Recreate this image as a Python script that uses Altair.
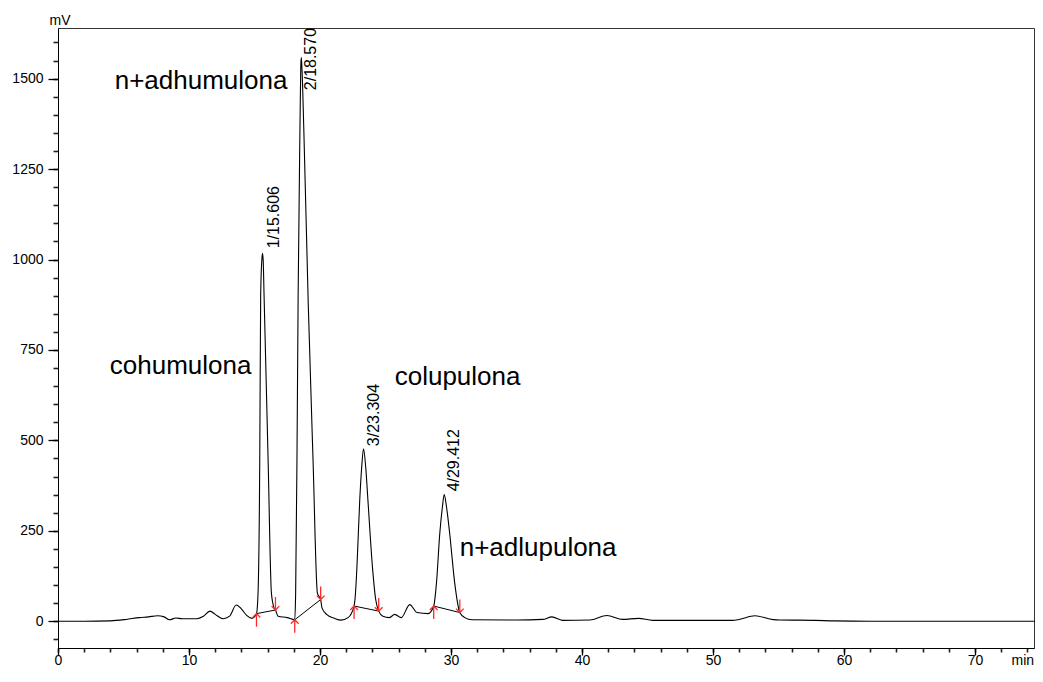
import altair as alt
import pandas as pd

# ---- chromatogram signal (time in min, signal in mV) ----
sig_t = [0, 2, 4.0, 5.2, 6.2, 6.9, 7.6, 8.1, 8.5, 9.0, 9.5, 10.6, 11.1, 11.6, 12.0,
         12.6, 13.1, 13.6, 14.0, 14.4, 14.8,
         15.15, 15.27, 15.40, 15.47, 15.56, 15.61, 15.66, 15.73, 16.04, 16.29, 16.49, 16.6,
         16.8, 17.5,
         18.07, 18.14, 18.24, 18.33, 18.47, 18.53, 18.57, 18.62, 18.76, 19.1, 19.47, 19.8, 20.05,
         20.15, 20.5, 21.1, 21.6, 22.14,
         22.6, 22.67, 22.82, 23.03, 23.18, 23.32, 23.49, 23.66, 24.0, 24.25, 24.48,
         24.8, 25.3, 25.7, 26.2, 26.85, 27.4, 28.25,
         28.68, 28.89, 29.14, 29.34, 29.48, 29.66, 29.9, 30.28, 30.67,
         31.05, 31.6, 35.0, 37.0, 37.7, 38.5, 40.6, 41.9, 43.1, 44.3, 45.4, 49.0,
         51.5, 52.0, 53.2, 54.6, 55.1, 57.8, 59.2, 62.0, 75.0]
sig_mv = [0, 0, 1, 5, 10, 12, 15, 12, 4, 9, 7, 7, 14, 28, 19,
          7, 14, 45, 34, 16, 8,
          21, 78, 443, 900, 1000, 1017, 1000, 900, 443, 78, 37, 31,
          14, 10,
          4, 78, 443, 900, 1364, 1530, 1559, 1530, 1364, 880, 443, 78, 60,
          37, 19, 8, 3, 10,
          42, 60, 151, 333, 425, 477, 425, 333, 151, 60, 28,
          14, 10, 19, 10, 46, 24, 21,
          42, 106, 242, 315, 350, 315, 242, 106, 24,
          10, 4, 3.5, 5, 12, 2.5, 3.5, 16, 5, 8, 2.5, 2.5,
          2.5, 5, 15, 4.5, 3.5, 2.5, 1, 0, 0]

# ---- integration baselines (start -> end of each peak) ----
base_t1 = [15.15, 18.07, 22.6, 28.68]
base_mv1 = [21, 4, 42, 42]
base_t2 = [16.6, 20.05, 24.48, 30.67]
base_mv2 = [31, 60, 28, 24]

# ---- peak labels (retention times) ----
peak_labels = ["1/15.606", "2/18.570", "3/23.304", "4/29.412"]
peak_label_t = [16.52, 19.33, 24.15, 30.21]
peak_label_mv = [1031, 1468, 484, 359]

# ---- compound names ----
names = ["n+adhumulona", "cohumulona", "colupulona", "n+adlupulona"]
name_t = [4.33, 3.95, 25.7, 30.66]
name_mv = [1471, 684, 653, 179]

# ---- axis ticks ----
x_major = [0, 10, 20, 30, 40, 50, 60, 70]
x_minor = list(range(0, 75, 2))
y_major = [0, 250, 500, 750, 1000, 1250, 1500]
y_minor = list(range(-50, 1650, 50))

FONT = "Liberation Sans"

signal = pd.DataFrame({"t": sig_t, "mv": sig_mv})
baselines = pd.DataFrame({"t": base_t1, "mv": base_mv1, "t2": base_t2, "mv2": base_mv2})
arrows = pd.DataFrame({
    "t": base_t1 + base_t2,
    "mv": base_mv1 + base_mv2,
    "dir": ["up"] * 4 + ["down"] * 4,
})
plabels = pd.DataFrame({"t": peak_label_t, "mv": peak_label_mv, "label": peak_labels})
nlabels = pd.DataFrame({"t": name_t, "mv": name_mv, "label": names})

xscale = alt.Scale(domain=[0, 74.5], nice=False, zero=False)
yscale = alt.Scale(domain=[-74, 1640], nice=False, zero=False)

xaxis_major = alt.Axis(values=x_major, orient="bottom", grid=False, format="d",
                       tickSize=7, tickWidth=1.3, labelPadding=-2,
                       title="min", titleAngle=0, titleX=953, titleY=16,
                       titleAlign="left", titleBaseline="alphabetic",
                       titleFontWeight="normal", titleFontSize=14, titleFont=FONT,
                       labelFont=FONT, labelFontSize=14, labelColor="black",
                       domainColor="black", tickColor="black", labelFlush=False)
xaxis_minor = alt.Axis(values=x_minor, orient="bottom", grid=False, labels=False,
                       domain=False, tickSize=4, tickWidth=1.6, tickColor="#222",
                       tickOpacity=1, title=None)
yaxis_major = alt.Axis(values=y_major, orient="left", grid=False, format="d",
                       tickSize=10, tickWidth=1.3, labelPadding=5,
                       title="mV", titleAngle=0, titleX=-9, titleY=-4,
                       titleAlign="left", titleBaseline="alphabetic",
                       titleFontWeight="normal", titleFontSize=14, titleFont=FONT,
                       labelFont=FONT, labelFontSize=14, labelColor="black",
                       domainColor="black", tickColor="black")
yaxis_minor = alt.Axis(values=y_minor, orient="left", grid=False, labels=False,
                       domain=False, tickSize=5, tickWidth=1.6, tickColor="#222",
                       tickOpacity=1, title=None)

X = alt.X("t:Q", scale=xscale, axis=xaxis_major)
Y = alt.Y("mv:Q", scale=yscale, axis=yaxis_major)
Xm = alt.X("t:Q", scale=xscale, axis=xaxis_minor)
Ym = alt.Y("mv:Q", scale=yscale, axis=yaxis_minor)
Xn = alt.X("t:Q", scale=xscale, axis=None)
Yn = alt.Y("mv:Q", scale=yscale, axis=None)

line = alt.Chart(signal).mark_line(interpolate="monotone", color="black",
                                   strokeWidth=1.1).encode(x=X, y=Y)

minor_axes = alt.Chart(signal).mark_line(strokeOpacity=0).encode(x=Xm, y=Ym)

base_rules = alt.Chart(baselines).mark_rule(color="black", strokeWidth=1).encode(
    x=Xn, y=Yn, x2="t2:Q", y2="mv2:Q")

up_path = "M0,0L0,1.5M-0.45,0.45L0,0L0.45,0.45"
down_path = "M0,0L0,-1.5M-0.45,-0.45L0,0L0.45,-0.45"
arrow_marks = alt.Chart(arrows).mark_point(filled=False, color="#ff2a2a",
                                           strokeWidth=1.3, size=300, opacity=1).encode(
    x=Xn, y=Yn,
    shape=alt.Shape("dir:N", scale=alt.Scale(domain=["up", "down"],
                                             range=[up_path, down_path]), legend=None))

peak_text = alt.Chart(plabels).mark_text(angle=270, align="left", baseline="middle",
                                         font=FONT, fontSize=16, color="black").encode(
    x=Xn, y=Yn, text="label:N")

name_text = alt.Chart(nlabels).mark_text(align="left", baseline="alphabetic",
                                         font=FONT, fontSize=26, color="black").encode(
    x=Xn, y=Yn, text="label:N")

chart = alt.layer(
    minor_axes, line, base_rules, arrow_marks, peak_text, name_text
).resolve_axis(
    x="independent", y="independent"
).properties(
    width=976, height=620,
    autosize=alt.AutoSizeParams(type="none"),
    padding={"left": 50, "top": 20, "right": 1, "bottom": 20},
    background="white",
).configure_view(
    stroke="#333", strokeWidth=1
)

chart.save("out.html", embed_options={"renderer": "svg", "actions": False})
